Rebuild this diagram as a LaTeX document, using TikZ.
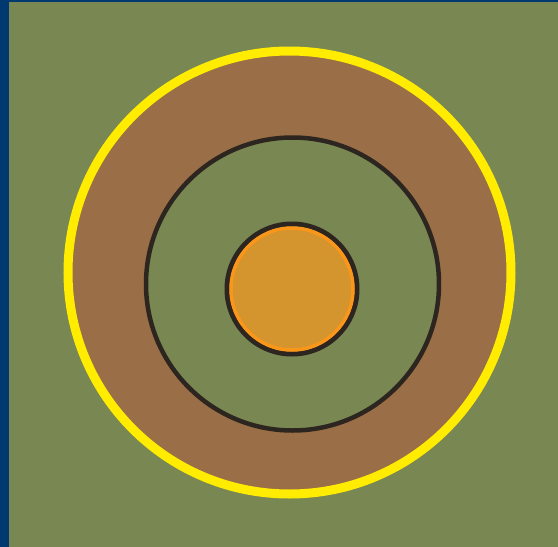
\documentclass[tikz,border=0pt]{standalone}
\usepackage{tikz}
\definecolor{navyedge}{RGB}{0,56,112}
\definecolor{fieldgreen}{RGB}{121,135,82}
\definecolor{soilbrown}{RGB}{154,110,70}
\definecolor{ringyellow}{RGB}{255,236,0}
\definecolor{darkline}{RGB}{45,38,32}
\definecolor{coreorange}{RGB}{212,148,46}
\definecolor{rimorange}{RGB}{250,150,25}
\tikzset{
    outerring/.style={
        line width=9pt,
        ringyellow,
        fill=soilbrown
    },
    % dark hand-drawn ring
    midring/.style={
        line width=4.5pt,
        darkline,
        fill=fieldgreen
    }
}

\begin{document}
\begin{tikzpicture}[x=1pt, y=-1pt]
	\fill[navyedge] (0,0) rectangle (558,547);
	\fill[fieldgreen] (9,2) rectangle (558,547);
	\useasboundingbox (0,0) rectangle (558,547);
	
	\draw[outerring] (289.5,272.5) circle (221.5);
	\draw[midring] (292.5,284) circle (146.5);
	
	\draw[darkline, line width=5pt, fill=coreorange] (292,289) circle (65);
	\draw[rimorange, line width=3.5pt] (292,289) circle (61);
\end{tikzpicture}
\end{document}
